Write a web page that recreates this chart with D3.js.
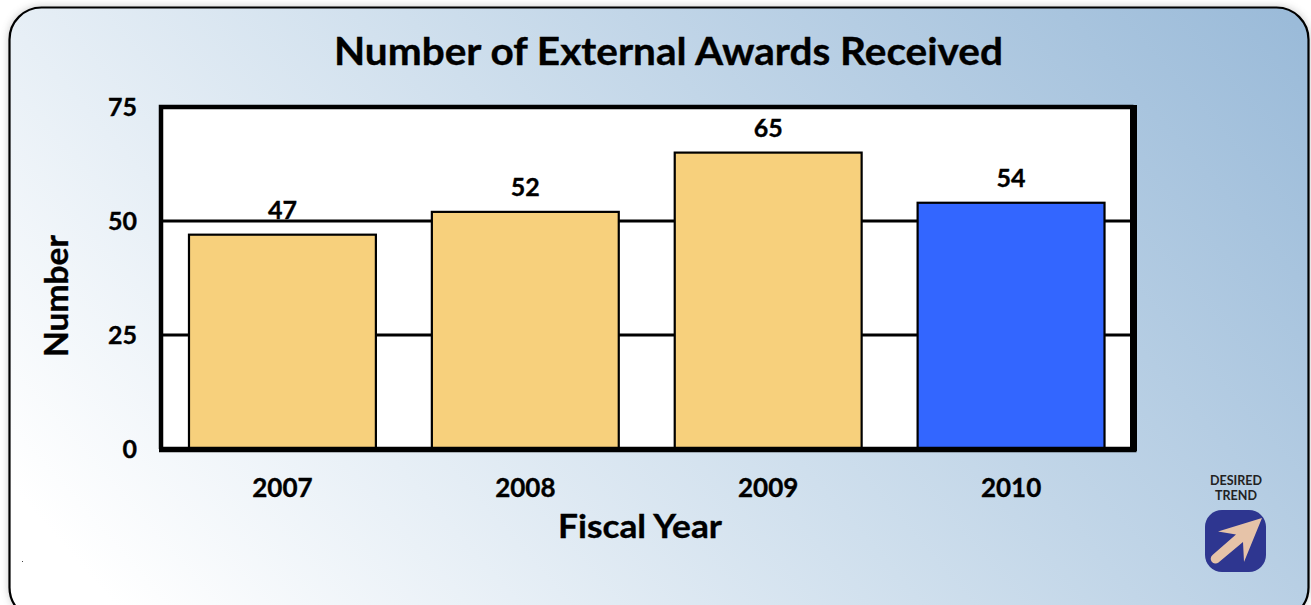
<!DOCTYPE html>
<html><head><meta charset="utf-8">
<script src="https://cdn.jsdelivr.net/npm/d3@7/dist/d3.min.js"></script>
<style>html,body{margin:0;padding:0;background:#fff;overflow:hidden}svg{display:block}text{font-family:Lato,"Open Sans",sans-serif;font-weight:700;fill:#000;stroke:#000;stroke-width:.35px}</style>
</head><body><svg id="c" width="1311" height="605"></svg>
<script>
const categories = ["2007","2008","2009","2010"];
const values = [47,52,65,54];
const barColors = ["#F7D07C","#F7D07C","#F7D07C","#3366FF"];
const yTicks = [0,25,50,75];
const titleText = "Number of External Awards Received";
const xTitle = "Fiscal Year";
const yTitle = "Number";

const svg = d3.select("#c");
const defs = svg.append("defs");
const g = defs.append("linearGradient").attr("id","bg").attr("gradientUnits","userSpaceOnUse")
  .attr("x1",140).attr("y1",760).attr("x2",1180).attr("y2",-150);
[[0.06,"#ffffff"],[0.5,"#cfdfed"],[0.98,"#9bbbd9"]].forEach(s=>g.append("stop").attr("offset",s[0]).attr("stop-color",s[1]));
const f = defs.append("filter").attr("id","sh").attr("x","-5%").attr("y","-5%").attr("width","110%").attr("height","110%");
f.append("feGaussianBlur").attr("stdDeviation",4);

svg.append("rect").attr("x",9).attr("y",7).attr("width",1300).attr("height",612).attr("rx",32)
  .attr("fill","#777").attr("opacity",.45).attr("filter","url(#sh)");
svg.append("rect").attr("x",9.5).attr("y",7.5).attr("width",1299).attr("height",612).attr("rx",32)
  .attr("fill","url(#bg)").attr("stroke","#000").attr("stroke-width",2.2);

const plot = {l:161,r:1133.5,t:107,b:449};
const x = d3.scaleBand().domain(categories).range([161,1132.5]).paddingInner(56/243).paddingOuter(28/243);
const y = d3.scaleLinear().domain([0,75]).range([plot.b,plot.t]);

svg.append("rect").attr("x",plot.l).attr("y",plot.t).attr("width",plot.r-plot.l).attr("height",plot.b-plot.t).attr("fill","#fff");

const ya = svg.append("g").attr("transform",`translate(${plot.l},0)`).call(d3.axisLeft(y).tickValues(yTicks).tickSize(0).tickPadding(24));
ya.select(".domain").remove();
ya.selectAll("text").style("font-size","25px").attr("fill","#000");

svg.append("g").selectAll("line").data(yTicks.filter(d=>d>0&&d<75)).join("line")
  .attr("x1",plot.l-2).attr("x2",plot.r).attr("y1",d=>y(d)).attr("y2",d=>y(d)).attr("stroke","#000").attr("stroke-width",3);

svg.append("g").selectAll("rect").data(values).join("rect")
  .attr("x",(d,i)=>x(categories[i])).attr("width",x.bandwidth())
  .attr("y",d=>y(d)).attr("height",d=>plot.b-y(d))
  .attr("fill",(d,i)=>barColors[i]).attr("stroke","#000").attr("stroke-width",2.2);

svg.append("g").selectAll("text").data(values).join("text")
  .attr("x",(d,i)=>x(categories[i])+x.bandwidth()/2).attr("y",d=>y(d)-16)
  .attr("text-anchor","middle").style("font-size","25px").text(d=>d);

svg.append("path").attr("d",`M${plot.l},${plot.b}V${plot.t}H${plot.r}`).attr("fill","none").attr("stroke","#000").attr("stroke-width",4.5);
svg.append("line").attr("x1",plot.r).attr("x2",plot.r).attr("y1",plot.t-2).attr("y2",plot.b+2).attr("stroke","#000").attr("stroke-width",7);
svg.append("line").attr("x1",plot.l-2).attr("x2",plot.r+3).attr("y1",plot.b+.5).attr("y2",plot.b+.5).attr("stroke","#000").attr("stroke-width",5.5);

const xa = svg.append("g").attr("transform",`translate(0,${plot.b})`).call(d3.axisBottom(x).tickSize(0).tickPadding(30));
xa.select(".domain").remove();
xa.selectAll("text").style("font-size","26px").attr("fill","#000");

svg.append("text").attr("x",668.5).attr("y",65).attr("text-anchor","middle").style("font-size","38px")
  .attr("textLength",669).attr("lengthAdjust","spacingAndGlyphs").text(titleText);
svg.append("text").attr("x",640).attr("y",538).attr("text-anchor","middle").style("font-size","32px")
  .attr("textLength",164).attr("lengthAdjust","spacingAndGlyphs").text(xTitle);
svg.append("text").attr("transform","translate(68,296) rotate(-90)").attr("text-anchor","middle").style("font-size","33px")
  .attr("textLength",122).attr("lengthAdjust","spacingAndGlyphs").text(yTitle);

svg.append("text").attr("x",1236).attr("y",485).attr("text-anchor","middle").style("font-size","12.5px").style("fill","#222").style("stroke","none").text("DESIRED");
svg.append("text").attr("x",1236).attr("y",500).attr("text-anchor","middle").style("font-size","12.5px").style("fill","#222").style("stroke","none").text("TREND");
svg.append("rect").attr("x",1205).attr("y",510).attr("width",61).attr("height",62).attr("rx",17).attr("fill","#2E3690");
svg.append("path").attr("d","M1262,518L1218,531.5L1236,534.5L1212.5,555A4,4 0 0 0 1218.5,562.5L1243,542L1244,562Z").attr("fill","#E6C3A8");
svg.append("rect").attr("x",22).attr("y",561).attr("width",1).attr("height",1).attr("fill","#444");
</script></body></html>
